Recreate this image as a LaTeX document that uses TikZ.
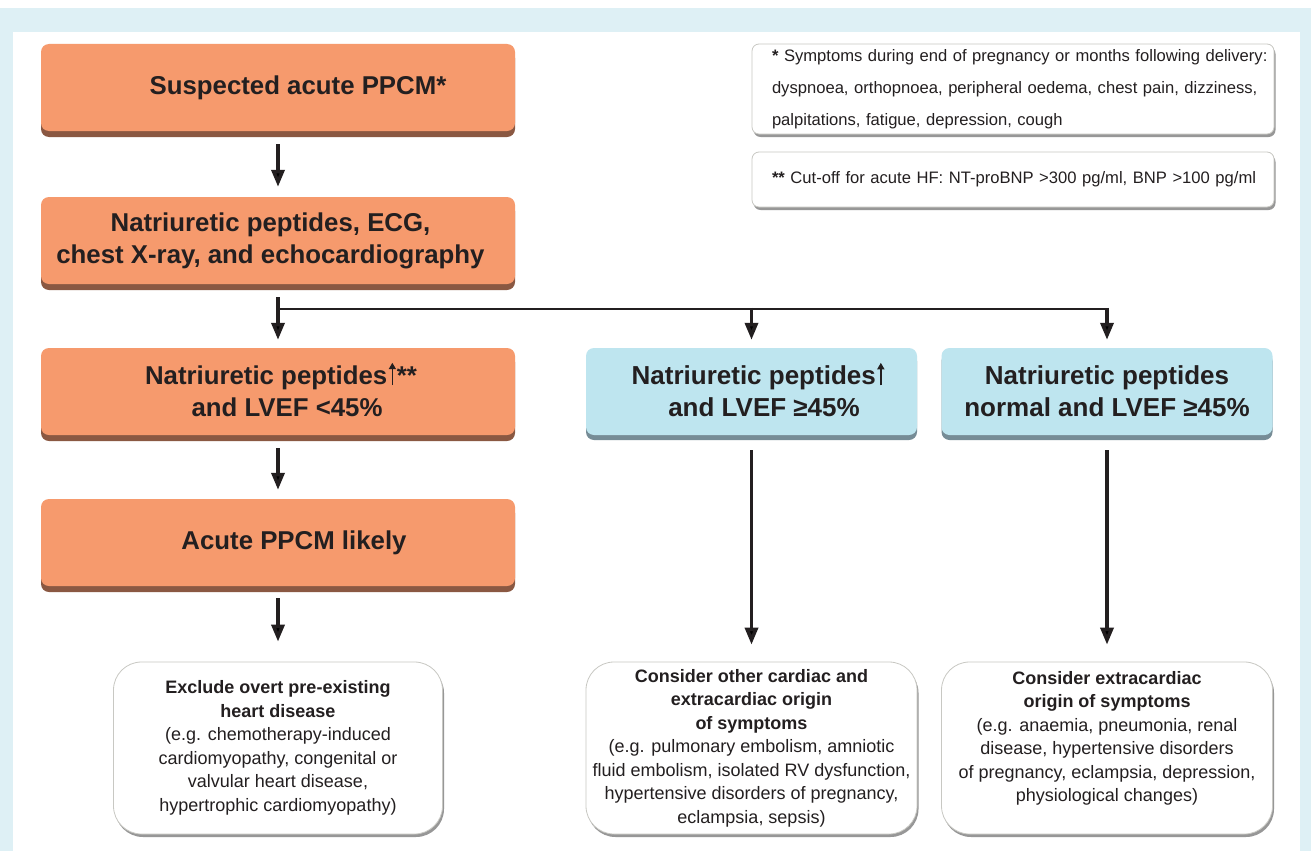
\documentclass[tikz,border=0pt]{standalone}
\usepackage{fontspec}
\setmainfont{Liberation Sans}
\usetikzlibrary{arrows.meta,shadows}
\definecolor{bgblue}{RGB}{222,240,245}
\definecolor{orfill}{RGB}{246,154,109}
\definecolor{orshadow}{RGB}{138,88,66}
\definecolor{blfill}{RGB}{190,229,239}
\definecolor{blshadow}{RGB}{118,140,150}
\definecolor{txt}{RGB}{35,31,32}
\definecolor{wborder}{RGB}{200,200,195}
\definecolor{wshadow}{RGB}{125,125,125}
\newcommand{\uparr}{\hspace{1.5pt}\smash{\tikz[baseline=0pt]\draw[txt, line width=1.6pt, -{Triangle[length=6.5pt,width=7pt]}] (0pt,-0.5pt) -- (0pt,22pt);}\hspace{1pt}}
\begin{document}
\begin{tikzpicture}[x=1pt,y=-1pt,
  every node/.style={text=txt, inner sep=0pt},
  orangebox/.style={fill=orfill, rounded corners=8pt, minimum width=474pt, minimum height=87pt,
    align=center, font=\fontsize{25.8}{32}\selectfont\bfseries,
    drop shadow={shadow xshift=0pt, shadow yshift=-6pt, fill=orshadow, opacity=1}},
  bluebox/.style={fill=blfill, rounded corners=8pt, minimum width=331pt, minimum height=87pt,
    align=center, font=\fontsize{26}{32}\selectfont\bfseries,
    drop shadow={shadow xshift=0pt, shadow yshift=-5pt, fill=blshadow, opacity=1}},
  whitebox/.style={fill=white, draw=wborder, line width=0.8pt, rounded corners=28pt,
    minimum width=331pt, minimum height=172pt, align=center,
    font=\fontsize{18}{23.5}\selectfont,
    drop shadow={shadow xshift=1.5pt, shadow yshift=-3pt, fill=wshadow, opacity=0.8}},
  notebox/.style={fill=white, draw=wborder, line width=0.8pt, rounded corners=7pt,
    minimum width=522pt, inner xsep=20pt, text width=482pt, align=left,
    font=\fontsize{16.6}{32}\selectfont,
    drop shadow={shadow xshift=1.5pt, shadow yshift=-3pt, fill=wshadow, opacity=0.8}},
  arr/.style={draw=txt, line width=3.5pt, -{Triangle[length=17pt,width=13pt]}},
  branch/.style={draw=txt, line width=2.5pt, line cap=rect}
]
\useasboundingbox (0,0) rectangle (1311,851);
\fill[bgblue] (0,8) rectangle (1311,851);
\fill[white] (13,32) rectangle (1300,851);

% left column
\node[orangebox] (b1) at (278,87.5) {\hspace*{40pt}Suspected acute PPCM*};
\node[orangebox] (b2) at (278,240.5) {Natriuretic peptides, ECG,\hspace*{15pt}\\chest X-ray, and echocardiography\hspace*{15pt}};
\node[orangebox] (b3) at (278,391.5) {\hspace*{6pt}Natriuretic peptides\uparr**\\\hspace*{18pt}and LVEF <45\%};
\node[orangebox] (b4) at (278,542.5) {\hspace*{32pt}Acute PPCM likely};

% blue boxes
\node[bluebox] (c2) at (751.5,391.5) {\hspace*{13pt}Natriuretic peptides\uparr\\\hspace*{25pt}and LVEF ≥45\%};
\node[bluebox] (c3) at (1107,391.5) {Natriuretic peptides\\normal and LVEF ≥45\%};

% bottom boxes
\node[whitebox, minimum width=329pt] (w1) at (278,748) {\textbf{Exclude overt pre-existing}\\\textbf{heart disease}\\(e.g. chemotherapy-induced\\cardiomyopathy, congenital or\\valvular heart disease,\\hypertrophic cardiomyopathy)};
\node[whitebox] (w2) at (751.5,748) {\textbf{Consider other cardiac and}\\\textbf{extracardiac origin}\\\textbf{of symptoms}\\(e.g. pulmonary embolism, amniotic\\fluid embolism, isolated RV dysfunction,\\hypertensive disorders of pregnancy,\\eclampsia, sepsis)};
\node[whitebox] (w3) at (1107,748) {\textbf{Consider extracardiac}\\\textbf{origin of symptoms}\\(e.g. anaemia, pneumonia, renal\\disease, hypertensive disorders\\of pregnancy, eclampsia, depression,\\physiological changes)\\\mbox{}};

% notes
\node[notebox, minimum height=90pt] (n1) at (1013,89) {\mbox{\textbf{*} Symptoms during end of pregnancy or months following delivery:}\\\mbox{dyspnoea, orthopnoea, peripheral oedema, chest pain, dizziness,}\\palpitations, fatigue, depression, cough};
\node[notebox, minimum height=55pt] (n2) at (1013,179.5) {\mbox{\textbf{**} Cut-off for acute HF: NT-proBNP >300 pg/ml, BNP >100 pg/ml}};

% connectors
\draw[arr, shorten <=13pt, shorten >=10pt] (b1) -- (b2);
\draw[arr, shorten <=13pt, shorten >=8pt] (b2) -- (b3);
\path (b2.south) ++(0,25) coordinate (br);
\draw[branch] (br) -- (br -| c3.north);
\draw[arr, shorten <=-1.25pt, shorten >=8pt] (br -| c2.north) -- (c2.north);
\draw[arr, shorten <=-1.25pt, shorten >=8pt] (br -| c3.north) -- (c3.north);
\draw[arr, shorten <=13pt, shorten >=9pt] (b3) -- (b4);
\draw[arr, shorten <=12pt, shorten >=20pt] (b4) -- (w1);
\draw[arr, shorten <=15pt, shorten >=17pt] (c2) -- (w2);
\draw[arr, shorten <=15pt, shorten >=17pt] (c3) -- (w3);
\end{tikzpicture}
\end{document}
